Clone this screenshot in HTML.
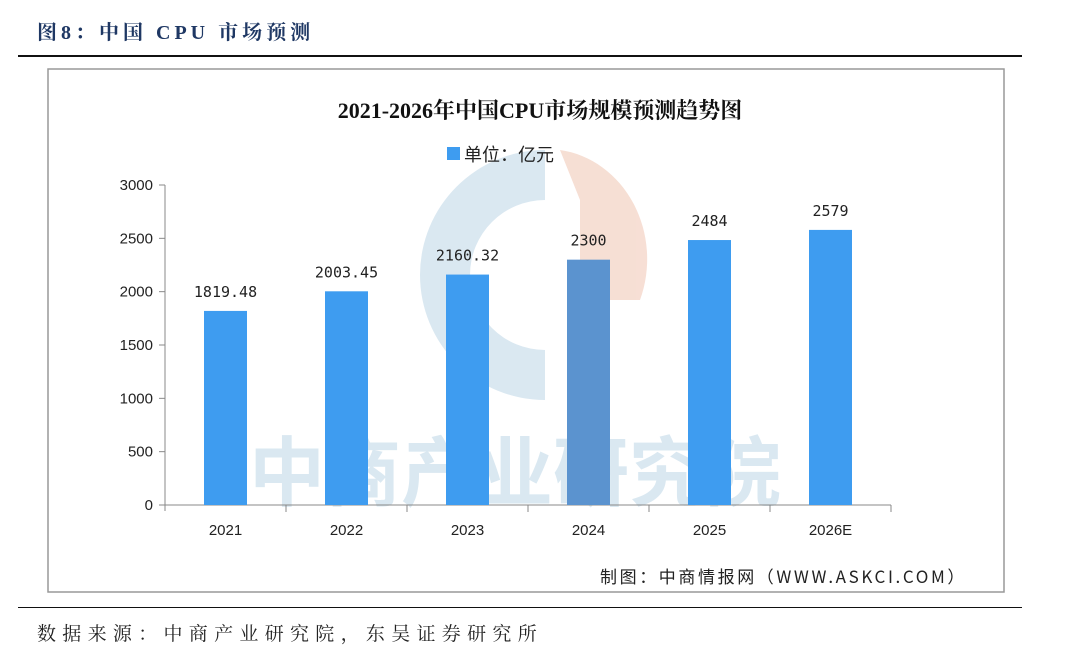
<!DOCTYPE html>
<html><head><meta charset="utf-8"><style>
body{margin:0;width:1080px;height:660px;background:#fff;overflow:hidden;position:relative;font-family:"Liberation Sans","Noto Sans CJK SC",sans-serif}
.hd{position:absolute;left:37px;top:16px;font:bold 20px "Liberation Serif","Noto Serif CJK SC",serif;color:#1f3864;letter-spacing:4px}
.ft{position:absolute;left:37px;top:619px;font:19px "Noto Serif CJK SC","Noto Sans CJK SC",serif;color:#222;letter-spacing:6.3px}
</style></head><body>
<div class="hd">图8：中国 CPU 市场预测</div>
<div style="position:absolute;left:18px;top:55px;width:1004px;height:2px;background:#111"></div>
<div style="position:absolute;left:18px;top:607px;width:1004px;height:1px;background:#111"></div>
<div class="ft">数据来源：中商产业研究院，东吴证券研究所</div>
<svg id="c" width="1080" height="660" style="position:absolute;left:0;top:0">
<rect x="48" y="69" width="956" height="523" fill="none" stroke="#999" stroke-width="1.5"/>
<g opacity="0.9">
<path d="M545 150 A125 125 0 1 0 545 400 L545 350 A75 75 0 1 1 545 200 Z" fill="#d6e6f0"/>
<path d="M560 150 A100 110 0 0 1 640 300 L580 300 L580 200 Z" fill="#f6dcd0"/>
<text x="515" y="500" text-anchor="middle" font-size="76" font-family="Noto Sans CJK SC,sans-serif" font-weight="bold" fill="#d6e6f0">中商产业研究院</text>
</g>
<text x="540" y="118" text-anchor="middle" font-size="22" font-weight="bold" font-family="Liberation Serif,Noto Serif CJK SC,serif" fill="#111">2021-2026年中国CPU市场规模预测趋势图</text>
<rect x="447" y="147" width="13" height="13" fill="#3e9cf0"/>
<text x="464" y="161" font-size="18" fill="#222" font-family="Noto Sans CJK SC,sans-serif">单位：亿元</text>
<text x="600" y="583" font-size="17" letter-spacing="2.6" fill="#222" font-family="Noto Sans CJK SC,sans-serif">制图：中商情报网（WWW.ASKCI.COM）</text>
<g id="g"></g>
</svg>
<script>
const categories=["2021","2022","2023","2024","2025","2026E"];
const values=[1819.48,2003.45,2160.32,2300,2484,2579];
const valueLabels=["1819.48","2003.45","2160.32","2300","2484","2579"];
const yTicks=[0,500,1000,1500,2000,2500,3000];
const ns="http://www.w3.org/2000/svg",g=document.getElementById('g');
const x0=165,step=121,y0=505,yMax=3000,ph=320;
const y=v=>y0-v/yMax*ph;
function el(t,a){const e=document.createElementNS(ns,t);for(const k in a)e.setAttribute(k,a[k]);g.appendChild(e);return e;}
let ax=el('line',{x1:x0,y1:y(3000),x2:x0,y2:y0+6,stroke:'#888'});


let bx=el('line',{x1:x0,y1:y0,x2:x0+step*categories.length,y2:y0,stroke:'#888'});


yTicks.forEach(t=>{
 el('line',{x1:x0-6,y1:y(t),x2:x0,y2:y(t),stroke:'#888'});
 const tx=el('text',{x:x0-12,y:y(t)+5,'text-anchor':'end','font-size':15,fill:'#222'});tx.textContent=t;
 
 
});
categories.forEach((c,i)=>{
 const cx=x0+step*(i+0.5);
 el('line',{x1:x0+step*(i+1),y1:y0,x2:x0+step*(i+1),y2:y0+7,stroke:'#888'});
 const r=el('rect',{x:cx-21.5,y:y(values[i]),width:43,height:y0-y(values[i]),fill:i==3?'#5b93cf':'#3e9cf0'});
 
 
 const l=el('text',{x:cx,y:y(values[i])-14,'text-anchor':'middle','font-size':15,fill:'#222','font-family':'DejaVu Sans Mono,monospace'});l.textContent=valueLabels[i];
 
 
 const xl=el('text',{x:cx,y:y0+30,'text-anchor':'middle','font-size':15,fill:'#222'});xl.textContent=c;
 
 
});
</script>
</body></html>
